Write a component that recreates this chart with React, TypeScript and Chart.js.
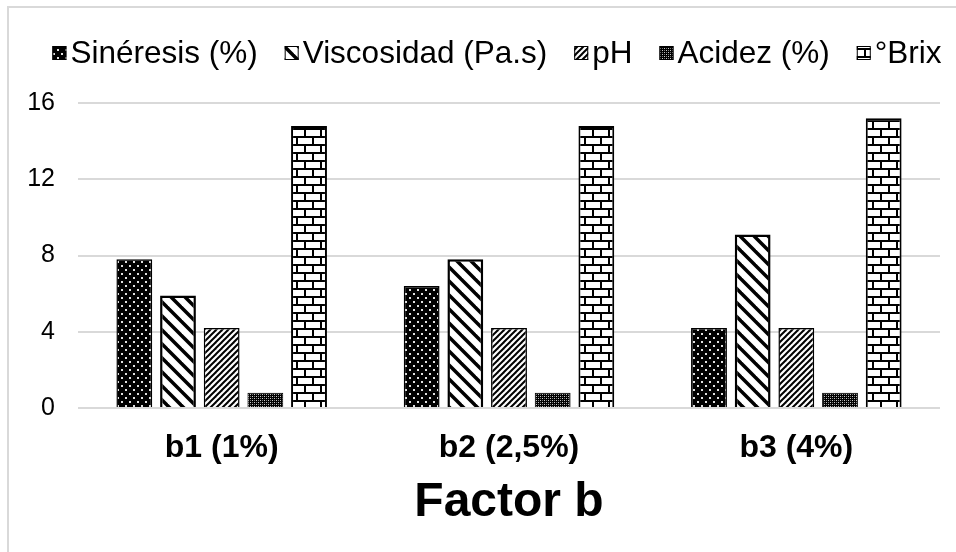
import React, { useEffect, useRef } from "react";
import { Chart, registerables } from "chart.js";

Chart.register(...registerables);

// ---- data ----
const categories = ["b1 (1%)", "b2 (2,5%)", "b3 (4%)"];
const seriesNames = ["Sinéresis (%)", "Viscosidad (Pa.s)", "pH", "Acidez (%)", "°Brix"];
const sineresis = [7.8, 6.4, 4.2];
const viscosidad = [5.9, 7.8, 9.1];
const ph = [4.2, 4.2, 4.2];
const acidez = [0.8, 0.8, 0.8];
const brix = [14.8, 14.8, 15.2];
const yMin = 0;
const yMax = 16;
const yStep = 4;
const axisTitle = "Factor b";

const FONT = '"Liberation Sans", Arial, Helvetica, sans-serif';
const BORDER_WIDTHS = [1.5, 2.5, 1.5, 1, 2];

function tile(ctx: CanvasRenderingContext2D, w: number, h: number, draw: (g: CanvasRenderingContext2D) => void) {
  const c = document.createElement("canvas");
  c.width = w;
  c.height = h;
  const g = c.getContext("2d")!;
  draw(g);
  return ctx.createPattern(c, "repeat")!;
}

function makePatterns(ctx: CanvasRenderingContext2D) {
  const dots = tile(ctx, 8, 8, (g) => {
    g.fillStyle = "#000";
    g.fillRect(0, 0, 8, 8);
    g.fillStyle = "#e0e0e0";
    g.fillRect(1, 1, 2, 2);
    g.fillRect(5, 5, 2, 2);
  });
  const wide = tile(ctx, 14, 14, (g) => {
    g.fillStyle = "#fff";
    g.fillRect(0, 0, 14, 14);
    g.strokeStyle = "#000";
    g.lineWidth = 3.5;
    for (const k of [-14, 0, 14]) {
      g.beginPath();
      g.moveTo(k - 2, -2);
      g.lineTo(k + 16, 16);
      g.stroke();
    }
  });
  const fine = tile(ctx, 6, 6, (g) => {
    g.fillStyle = "#fff";
    g.fillRect(0, 0, 6, 6);
    g.strokeStyle = "#000";
    g.lineWidth = 2;
    for (const k of [-6, 0, 6]) {
      g.beginPath();
      g.moveTo(k - 1, 7);
      g.lineTo(k + 7, -1);
      g.stroke();
    }
  });
  const dense = tile(ctx, 4, 4, (g) => {
    g.fillStyle = "#000";
    g.fillRect(0, 0, 4, 4);
    g.fillStyle = "#c8c8c8";
    g.fillRect(0, 0, 1, 1);
    g.fillRect(2, 2, 1, 1);
    g.fillStyle = "#777";
    g.fillRect(2, 0, 1, 1);
    g.fillRect(0, 2, 1, 1);
  });
  const bricks = tile(ctx, 16, 16, (g) => {
    g.fillStyle = "#fff";
    g.fillRect(0, 0, 16, 16);
    g.fillStyle = "#000";
    g.fillRect(0, 0, 16, 2);
    g.fillRect(0, 8, 16, 2);
    g.fillRect(0, 0, 2, 8);
    g.fillRect(8, 8, 2, 8);
  });
  return [dots, wide, fine, dense, bricks];
}

const framePlugin = {
  id: "frame",
  beforeDraw(chart: any) {
    const ctx = chart.ctx as CanvasRenderingContext2D;
    ctx.save();
    ctx.fillStyle = "#fff";
    ctx.fillRect(0, 0, chart.width, chart.height);
    ctx.strokeStyle = "#d9d9d9";
    ctx.lineWidth = 2;
    ctx.beginPath();
    ctx.moveTo(8, chart.height);
    ctx.lineTo(8, 7);
    ctx.lineTo(chart.width, 7);
    ctx.stroke();
    ctx.restore();
  },
};

const legendPlugin = {
  id: "patternLegend",
  afterDraw(chart: any) {
    const ctx = chart.ctx as CanvasRenderingContext2D;
    const size = 31.5;
    const box = 14;
    const gapBox = 4;
    const gapItems = 27;
    const cy = 53;
    const centerX = 497;
    ctx.save();
    ctx.font = `${size}px ${FONT}`;
    ctx.textBaseline = "middle";
    ctx.textAlign = "left";
    const items = chart.data.datasets.map((ds: any) => ({
      label: ds.label as string,
      fill: ds.backgroundColor,
      w: ctx.measureText(ds.label).width,
    }));
    const total =
      items.reduce((s: number, it: any) => s + box + gapBox + it.w, 0) + gapItems * (items.length - 1);
    let x = centerX - total / 2;
    for (const it of items) {
      ctx.fillStyle = it.fill;
      ctx.fillRect(x, cy - box / 2, box, box);
      ctx.strokeStyle = "#000";
      ctx.lineWidth = 1;
      ctx.strokeRect(x + 0.5, cy - box / 2 + 0.5, box - 1, box - 1);
      ctx.fillStyle = "#000";
      ctx.fillText(it.label, x + box + gapBox, cy + 1);
      x += box + gapBox + it.w + gapItems;
    }
    ctx.restore();
  },
};

export default function App() {
  const ref = useRef<HTMLCanvasElement>(null);

  useEffect(() => {
    const canvas = ref.current!;
    const ctx = canvas.getContext("2d")!;
    const patterns = makePatterns(ctx);
    const seriesValues = [sineresis, viscosidad, ph, acidez, brix];

    const chart = new Chart(canvas, {
      type: "bar",
      data: {
        labels: categories,
        datasets: seriesNames.map((name, i) => ({
          label: name,
          data: seriesValues[i],
          backgroundColor: patterns[i] as any,
          borderColor: "#000",
          borderWidth: BORDER_WIDTHS[i],
          categoryPercentage: 0.76,
          barPercentage: 0.82,
        })),
      },
      options: {
        responsive: false,
        animation: false,
        devicePixelRatio: 1,
        layout: { padding: { top: 103, right: 16, left: 0, bottom: 0 } },
        plugins: {
          legend: { display: false },
          tooltip: { enabled: false },
          title: { display: false },
        },
        scales: {
          y: {
            min: yMin,
            max: yMax,
            ticks: {
              stepSize: yStep,
              color: "#000",
              font: { family: FONT, size: 25 },
              padding: 23,
            },
            grid: { color: "#d9d9d9", lineWidth: 2, drawTicks: false },
            border: { display: false },
            afterFit: (scale: any) => {
              scale.width = 78;
            },
          },
          x: {
            ticks: {
              color: "#000",
              font: { family: FONT, size: 32, weight: "bold" },
              padding: 21,
              maxRotation: 0,
            },
            grid: { display: false, drawTicks: false },
            border: { display: false },
            title: {
              display: true,
              text: axisTitle,
              color: "#000",
              font: { family: FONT, size: 48, weight: "bold" },
              padding: { top: 0, bottom: 20 },
            },
            afterFit: (scale: any) => {
              scale.height = 144;
            },
          },
        },
      },
      plugins: [framePlugin, legendPlugin],
    });

    return () => chart.destroy();
  }, []);

  return (
    <div style={{ position: "absolute", left: 0, top: 0, width: 956, height: 552, background: "#fff" }}>
      <canvas ref={ref} width={956} height={552} style={{ display: "block", width: 956, height: 552 }} />
    </div>
  );
}
